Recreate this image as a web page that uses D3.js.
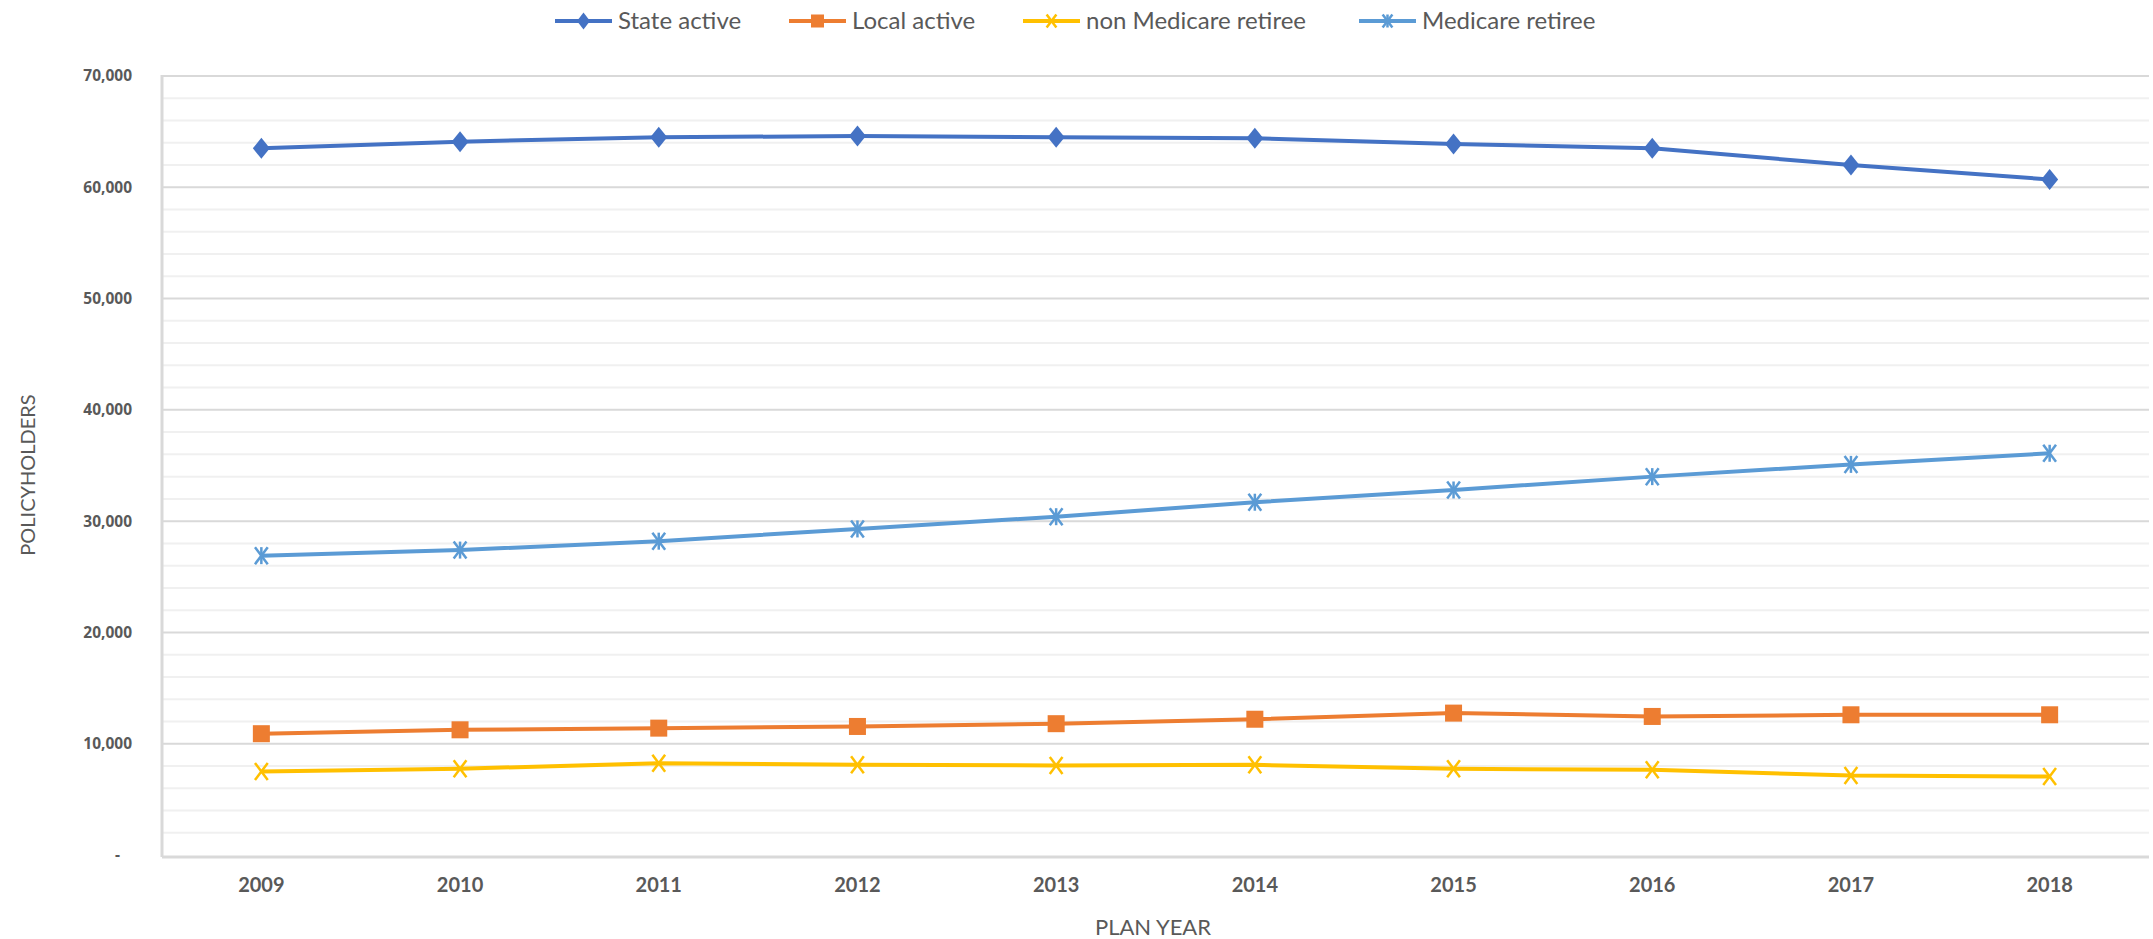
<!DOCTYPE html>
<html>
<head>
<meta charset="utf-8">
<script src="https://cdn.jsdelivr.net/npm/d3@7/dist/d3.min.js"></script>
<style>
  html, body { margin: 0; padding: 0; background: #fff; }
  svg { display: block; }
</style>
</head>
<body>
<svg id="chart" width="2153" height="939"></svg>
<script>
// Plan years on the horizontal axis
const years = ["2009", "2010", "2011", "2012", "2013", "2014", "2015", "2016", "2017", "2018"];

// Policyholder counts per plan year
const stateActive = [63500, 64100, 64500, 64600, 64500, 64400, 63900, 63500, 62000, 60700];
const localActive = [10900, 11250, 11400, 11550, 11800, 12200, 12750, 12450, 12600, 12600];
const nonMedicareRetiree = [7500, 7750, 8250, 8100, 8050, 8100, 7750, 7650, 7150, 7050];
const medicareRetiree = [26900, 27400, 28200, 29300, 30400, 31700, 32800, 34000, 35100, 36100];

// Series names, in legend order
const seriesNames = ["State active", "Local active", "non Medicare retiree", "Medicare retiree"];

// Value axis ticks
const yTicks = [0, 10000, 20000, 30000, 40000, 50000, 60000, 70000];
const yMinorTicks = d3.range(0, 70001, 2000);

const series = [
  { name: seriesNames[0], values: stateActive, color: "#4472C4", marker: "diamond" },
  { name: seriesNames[1], values: localActive, color: "#ED7D31", marker: "square" },
  { name: seriesNames[2], values: nonMedicareRetiree, color: "#FFC000", marker: "x" },
  { name: seriesNames[3], values: medicareRetiree, color: "#5B9BD5", marker: "star" }
];

const svg = d3.select("#chart");
const plot = { left: 162, right: 2149, top: 76, bottom: 855 };

const x = d3.scaleBand().domain(years).range([plot.left, plot.right]);
const y = d3.scaleLinear().domain([0, 70000]).range([plot.bottom, plot.top]);
const cx = d => x(d) + x.bandwidth() / 2;

const textColor = "#595959";
const labelFont = "Lato, 'Open Sans', sans-serif";

// Minor gridlines
svg.append("g")
  .selectAll("line")
  .data(yMinorTicks.filter(v => v % 10000 !== 0))
  .join("line")
  .attr("x1", plot.left).attr("x2", plot.right)
  .attr("y1", d => y(d)).attr("y2", d => y(d))
  .attr("stroke", "#f0f0f0").attr("stroke-width", 2);

// Major gridlines
svg.append("g")
  .selectAll("line")
  .data(yTicks.filter(v => v > 0))
  .join("line")
  .attr("x1", plot.left).attr("x2", plot.right)
  .attr("y1", d => y(d)).attr("y2", d => y(d))
  .attr("stroke", "#d9d9d9").attr("stroke-width", 2);

// Left and bottom frame lines
svg.append("line")
  .attr("x1", plot.left).attr("x2", plot.left)
  .attr("y1", plot.top - 1).attr("y2", plot.bottom + 2)
  .attr("stroke", "#d9d9d9").attr("stroke-width", 3);
svg.append("line")
  .attr("x1", plot.left).attr("x2", plot.right)
  .attr("y1", plot.bottom + 2).attr("y2", plot.bottom + 2)
  .attr("stroke", "#d9d9d9").attr("stroke-width", 3);

// Y axis labels (zero shown as a dash, accounting style)
const yAxis = d3.axisLeft(y)
  .tickValues(yTicks)
  .tickSize(0)
  .tickPadding(0)
  .tickFormat(d => d === 0 ? "-" : d3.format(",")(d));
const yg = svg.append("g").attr("transform", `translate(${plot.left - 30},0)`).call(yAxis);
yg.select(".domain").remove();
yg.selectAll("text")
  .attr("fill", textColor)
  .attr("dx", d => d === 0 ? -12 : 0)
  .style("font-family", "'Open Sans', sans-serif")
  .style("font-weight", "bold")
  .style("font-size", "15.5px");

// X axis labels
const xAxis = d3.axisBottom(x).tickSize(0).tickPadding(0);
const xg = svg.append("g").attr("transform", `translate(0,${plot.bottom + 23})`).call(xAxis);
xg.select(".domain").remove();
xg.selectAll("text")
  .attr("fill", textColor)
  .attr("dy", "0.71em")
  .style("font-family", labelFont)
  .style("font-weight", "bold")
  .style("font-size", "20px");

// Axis titles
svg.append("text")
  .attr("transform", "translate(35,475) rotate(-90)")
  .attr("text-anchor", "middle")
  .attr("fill", textColor)
  .style("font-family", labelFont)
  .style("font-size", "20px")
  .text("POLICYHOLDERS");
svg.append("text")
  .attr("x", 1153).attr("y", 935)
  .attr("text-anchor", "middle")
  .attr("fill", textColor)
  .style("font-family", labelFont)
  .style("font-size", "22px")
  .text("PLAN YEAR");

// Marker shapes
function drawMarker(g, type, color, px, py, s) {
  const h = s / 2;
  if (type === "diamond") {
    g.append("path")
      .attr("d", `M${px},${py - h - 1}L${px + h - 1},${py}L${px},${py + h + 1}L${px - h + 1},${py}Z`)
      .attr("fill", color);
  } else if (type === "square") {
    g.append("rect")
      .attr("x", px - h + 1).attr("y", py - h + 1)
      .attr("width", s - 2).attr("height", s - 2)
      .attr("fill", color);
  } else {
    const r = h - 1;
    const p = [[px - r * 0.75, py - r, px + r * 0.75, py + r], [px - r * 0.75, py + r, px + r * 0.75, py - r]];
    if (type === "star") p.push([px, py - r, px, py + r]);
    p.forEach(l => g.append("line")
      .attr("x1", l[0]).attr("y1", l[1]).attr("x2", l[2]).attr("y2", l[3])
      .attr("stroke", color).attr("stroke-width", 2.5));
  }
}

// Series lines and markers
const line = d3.line().x(d => cx(d.year)).y(d => y(d.value));
series.forEach(s => {
  const pts = years.map((yr, i) => ({ year: yr, value: s.values[i] }));
  const g = svg.append("g");
  g.append("path")
    .datum(pts)
    .attr("d", line)
    .attr("fill", "none")
    .attr("stroke", s.color)
    .attr("stroke-width", 4)
    .attr("stroke-linejoin", "round");
  pts.forEach(p => drawMarker(g, s.marker, s.color, cx(p.year), y(p.value), 19));
});

// Legend
const legendX = [555, 789, 1023, 1359];
series.forEach((s, i) => {
  const g = svg.append("g").attr("transform", `translate(${legendX[i]},21)`);
  g.append("line").attr("x1", 0).attr("x2", 57).attr("y1", 0).attr("y2", 0)
    .attr("stroke", s.color).attr("stroke-width", 4);
  drawMarker(g, s.marker, s.color, 28.5, 0, 15);
  g.append("text")
    .attr("x", 63).attr("y", 0).attr("dy", "0.35em")
    .attr("fill", textColor)
    .style("font-family", labelFont)
    .style("font-size", "24px")
    .text(s.name);
});
</script>
</body>
</html>
